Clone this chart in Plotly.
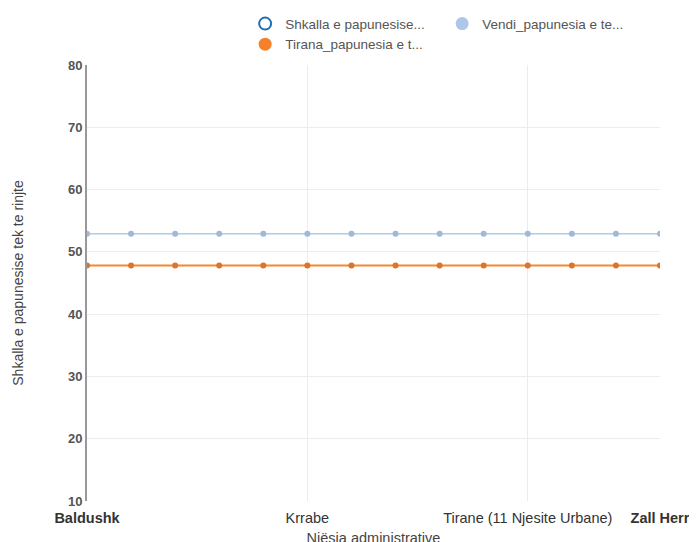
import plotly.graph_objects as go

categories = ["Baldushk", "Berxulle", "Berzhite", "Dajt", "Farke", "Krrabe", "Ndroq",
              "Petrele", "Peze", "Shengjergj", "Tirane (11 Njesite Urbane)", "Vaqarr",
              "Zall Bastar", "Zall Herr"]
shkalla = [None, None, None, None, None, None, None, None, None, None, None, None, None, None]
vendi = [52.9, 52.9, 52.9, 52.9, 52.9, 52.9, 52.9, 52.9, 52.9, 52.9, 52.9, 52.9, 52.9, 52.9]
tirana = [47.8, 47.8, 47.8, 47.8, 47.8, 47.8, 47.8, 47.8, 47.8, 47.8, 47.8, 47.8, 47.8, 47.8]
tick_cats = ["Baldushk", "Krrabe", "Tirane (11 Njesite Urbane)", "Zall Herr"]
tick_text = ["<b>Baldushk</b>", "Krrabe", "Tirane (11 Njesite Urbane)", "<b>Zall Herr</b>"]
names = ["Shkalla e papunesise...", "Vendi_papunesia e te...", "Tirana_papunesia e t..."]

FONT = "Liberation Sans, Arial, sans-serif"
fig = go.Figure()

# data traces
fig.add_trace(go.Scatter(x=categories, y=shkalla, mode="lines+markers", showlegend=False,
                         legendgroup="s", line=dict(color="#1f6fb4", width=1.5),
                         marker=dict(size=6, color="white", line=dict(color="#1f6fb4", width=2))))
fig.add_trace(go.Scatter(x=categories, y=vendi, mode="lines+markers", showlegend=False,
                         legendgroup="v", line=dict(color="#aecbea", width=1.5),
                         marker=dict(size=6, color="#9fb9d6")))
fig.add_trace(go.Scatter(x=categories, y=tirana, mode="lines+markers", showlegend=False,
                         legendgroup="t", line=dict(color="#f28a30", width=2),
                         marker=dict(size=6, color="#d9752c")))

# legend entries
fig.add_trace(go.Scatter(x=[categories[0]], y=[None], mode="markers", name=names[0], legendgroup="s",
                         marker=dict(size=12, color="white", line=dict(color="#1f6fb4", width=2))))
fig.add_trace(go.Scatter(x=[categories[0]], y=[None], mode="markers", name=names[1], legendgroup="v",
                         marker=dict(size=13, color="#aec7e8")))
fig.add_trace(go.Scatter(x=[categories[0]], y=[None], mode="markers", name=names[2], legendgroup="t",
                         marker=dict(size=13, color="#f5822a")))

fig.update_layout(
    width=697, height=542, autosize=False,
    margin=dict(l=79, r=45, t=57, b=49, autoexpand=False),
    plot_bgcolor="white", paper_bgcolor="white",
    font=dict(family=FONT, size=13, color="#555"),
    legend=dict(orientation="h", x=0.276, xanchor="left", y=1.13, yanchor="top",
                entrywidth=152, entrywidthmode="pixels", itemsizing="trace",
                font=dict(size=13.5, color="#555"), tracegroupgap=0, itemwidth=30),
)
fig.update_xaxes(
    type="category", categoryorder="array", categoryarray=categories,
    range=[0, 13], tickmode="array", tickvals=tick_cats, ticktext=tick_text,
    showgrid=True, gridcolor="#ececec", gridwidth=1, showline=False, zeroline=False,
    ticks="", ticklabelstandoff=6, tickfont=dict(size=14.5, color="#333", family=FONT),
    title=dict(text="Njësia administrative", standoff=8, font=dict(size=14.5, color="#444")),
)
fig.update_yaxes(
    range=[10, 80], dtick=10, showgrid=True, gridcolor="#ececec", gridwidth=1,
    showline=True, linecolor="#999", linewidth=2, zeroline=False, ticks="",
    tickfont=dict(size=13, color="#555", family=FONT, weight="bold"),
    title=dict(text="Shkalla e papunesise tek te rinjte", standoff=41, font=dict(size=14, color="#444")),
)
fig.write_html("out.html")
